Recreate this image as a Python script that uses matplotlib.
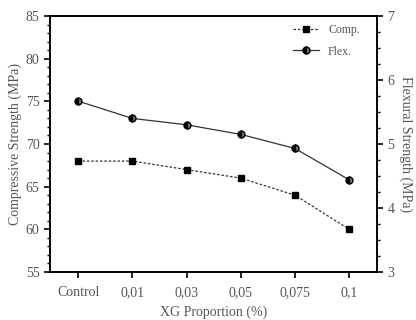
import matplotlib.pyplot as plt
from matplotlib.ticker import MultipleLocator
from matplotlib.lines import Line2D

categorias = ["Control", "0,01", "0,03", "0,05", "0,075", "0,1"]
comp = [68, 68, 67, 66, 64, 60]
flex = [5.67, 5.40, 5.30, 5.15, 4.93, 4.44]

plt.rcParams['font.family'] = ['Liberation Serif', 'DejaVu Serif']
gris = '#555555'
linea = '#333333'

fig = plt.figure(figsize=(4.16, 3.2), dpi=100)
ax1 = fig.add_axes([0.120, 0.150, 0.786, 0.800])
x = list(range(len(categorias)))

ax1.plot(x, comp, color=linea, lw=0.9, ls=(0, (2, 1.5)), marker='s', ms=4.5,
         mfc='black', mec='black')
ax1.set_ylim(55, 85)
ax1.set_xlim(-0.52, 5.51)
ax1.yaxis.set_major_locator(MultipleLocator(5))
ax1.yaxis.set_minor_locator(MultipleLocator(1))
ax1.set_xticks(x)
ax1.set_xticklabels(categorias)
ax1.set_ylabel('Compressive Strength (MPa)', fontsize=10, color=gris, labelpad=3)
ax1.set_xlabel('XG Proportion (%)', fontsize=10, color=gris, labelpad=5)
ax1.tick_params(axis='both', which='major', direction='out', length=4, width=1.2,
                labelsize=10, labelcolor=gris)
ax1.tick_params(axis='y', which='minor', direction='out', length=2.5, width=1)
ax1.tick_params(axis='x', pad=6)

ax2 = ax1.twinx()
ax2.plot(x, flex, color=linea, lw=0.9, marker='o', ms=5, fillstyle='left',
         mfc='black', mfcalt='#777777', mec='black')
ax2.set_ylim(3, 7)
ax2.yaxis.set_major_locator(MultipleLocator(1))
ax2.yaxis.set_minor_locator(MultipleLocator(0.25))
ax2.set_ylabel('Flexural Strength (MPa)', fontsize=10, color=gris, rotation=270, labelpad=13)
ax2.tick_params(axis='y', which='major', direction='out', length=4, width=1.2,
                labelsize=10, labelcolor=gris)
ax2.tick_params(axis='y', which='minor', direction='out', length=2.5, width=1)

for a in (ax1, ax2):
    for s in a.spines.values():
        s.set_linewidth(1.2)

h1 = Line2D([], [], color=linea, lw=0.9, ls=(0, (2, 1.5)), marker='s', ms=4.5,
            mfc='black', mec='black')
h2 = Line2D([], [], color=linea, lw=0.9, marker='o', ms=5, fillstyle='left',
            mfc='black', mfcalt='#777777', mec='black')
ax2.legend([h1, h2], ['Comp.', 'Flex.'], loc='upper right', frameon=False,
           fontsize=8.5, handlelength=2.2, labelspacing=0.8, labelcolor=gris,
           bbox_to_anchor=(0.98, 1.01))

fig.savefig('out.png', dpi=100)
